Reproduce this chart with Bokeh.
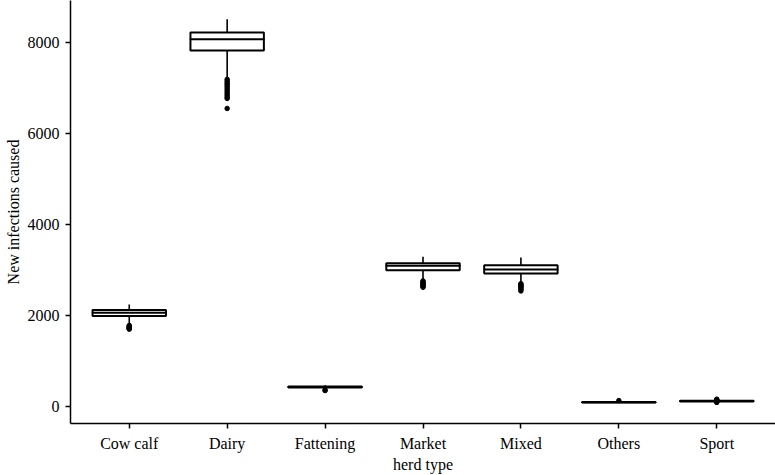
from bokeh.plotting import figure
from bokeh.models import FactorRange, Range1d, FixedTicker, ColumnDataSource
from bokeh.embed import file_html
from bokeh.resources import INLINE

categories = ["Cow calf", "Dairy", "Fattening", "Market", "Mixed", "Others", "Sport"]
lower_whisker = [1800, 7210, 400, 2780, 2720, 85, 100]
q1 = [1990, 7825, 415, 2995, 2925, 88, 110]
median = [2060, 8070, 428, 3095, 3010, 95, 118]
q3 = [2120, 8220, 440, 3150, 3105, 100, 125]
upper_whisker = [2240, 8510, 465, 3290, 3275, 110, 140]

outliers = {
    "Cow calf": [1780, 1765, 1750, 1740, 1730, 1720, 1710, 1700],
    "Dairy": [7190, 7150, 7110, 7080, 7040, 7000, 6960, 6920, 6880, 6840, 6800, 6770, 6550],
    "Fattening": [360, 350],
    "Market": [2760, 2740, 2720, 2700, 2680, 2660, 2640, 2620],
    "Mixed": [2700, 2680, 2660, 2640, 2620, 2600, 2570, 2540],
    "Others": [130],
    "Sport": [160, 150, 140, 95, 90],
}

y_ticks = [0, 2000, 4000, 6000, 8000]

FONT = "Liberation Serif"

p = figure(
    width=775, height=475,
    x_range=FactorRange(*categories, range_padding=0.1, range_padding_units="absolute"),
    y_range=Range1d(-374, 8923),
    output_backend="svg", toolbar_location=None,
    min_border_left=70, min_border_right=0, min_border_top=0, min_border_bottom=52,
)

src = ColumnDataSource(dict(cat=categories, lw=lower_whisker, q1=q1, med=median, q3=q3, uw=upper_whisker))

# whiskers
p.segment(x0="cat", y0="q3", x1="cat", y1="uw", source=src, line_color="black", line_width=1.6)
p.segment(x0="cat", y0="q1", x1="cat", y1="lw", source=src, line_color="black", line_width=1.6)
# boxes
p.vbar(x="cat", width=0.75, bottom="q1", top="q3", source=src,
       fill_color="white", line_color="black", line_width=2)
# medians
p.rect(x="cat", y="med", width=0.75, height=0.001, source=src,
       fill_color=None, line_color="black", line_width=2)

ox, oy = [], []
for c in categories:
    for v in outliers[c]:
        ox.append(c)
        oy.append(v)
p.scatter(ox, oy, size=4.5, color="black")

p.xgrid.visible = False
p.ygrid.visible = False
p.outline_line_color = None

p.yaxis.ticker = FixedTicker(ticks=y_ticks)
p.yaxis.minor_tick_line_color = None
p.xaxis.axis_label = "herd type"
p.yaxis.axis_label = "New infections caused"
for ax in (p.xaxis, p.yaxis):
    ax.axis_line_color = "black"
    ax.axis_line_width = 1.5
    ax.major_tick_line_color = "black"
    ax.major_tick_line_width = 1.5
    ax.major_tick_out = 5
    ax.major_tick_in = 0
    ax.major_label_text_font = FONT
    ax.major_label_text_font_size = "16px"
    ax.major_label_text_color = "black"
    ax.axis_label_text_font = FONT
    ax.axis_label_text_font_size = "16px"
    ax.axis_label_text_font_style = "normal"
    ax.axis_label_text_color = "black"
p.xaxis.major_label_standoff = 6
p.xaxis.axis_label_standoff = 1
p.yaxis.major_label_standoff = 6
p.yaxis.axis_label_standoff = 3

open("out.html", "w").write(file_html(p, INLINE))
